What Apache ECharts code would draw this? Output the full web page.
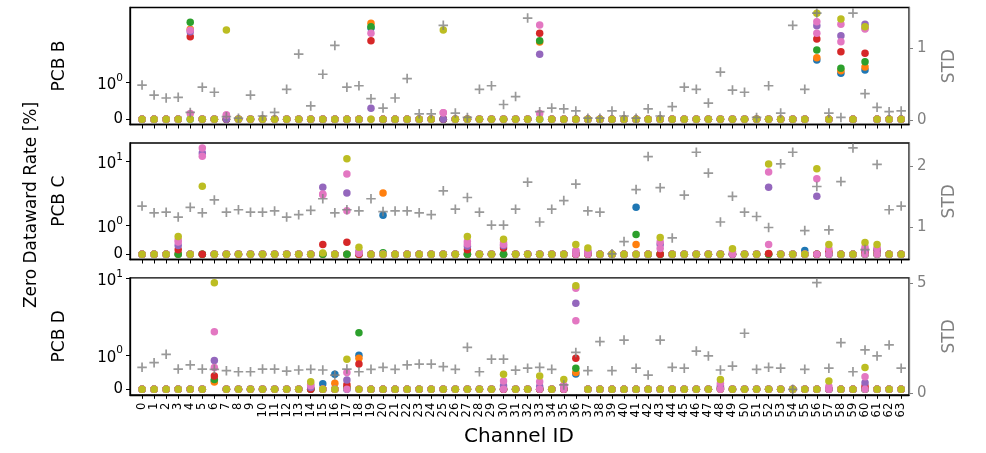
<!DOCTYPE html>
<html><head><meta charset="utf-8">
<script src="https://cdn.jsdelivr.net/npm/echarts@6/dist/echarts.min.js"></script>
<style>html,body{margin:0;padding:0;background:#fff}#c{width:986px;height:453px}</style>
</head><body><div id="c"></div>
<script>
// ---------------- DATA ----------------
const channels = [0,1,2,3,4,5,6,7,8,9,10,11,12,13,14,15,16,17,18,19,20,21,22,23,24,25,26,27,28,29,30,31,
  32,33,34,35,36,37,38,39,40,41,42,43,44,45,46,47,48,49,50,51,52,53,54,55,56,57,58,59,60,61,62,63];
const panelNames = ['PCB B', 'PCB C', 'PCB D'];
const yTicksLeft = [[0, 1], [0, 1, 10], [0, 1, 10]];
const yTicksRight = [[0, 1], [1, 2], [0, 5]];

// Zero dataward rate [%] per series (8 series) per panel
const B_blue   = [0,0,0,0,0,0,0,0,0,0,0,0,0,0,0,0, 0,0,0,4.6,0,0,0,0,0,0,0,0,0,0,0,0, 0,0,0,0,0,0,0,0,0,0,0,0,0,0,0,0, 0,0,0,0,0,0,0,0,1.88,0,1.30,0,1.42,0,0,0];
const B_orange = [0,0,0,0,4.43,0,0,0,0,0,0,0,0,0,0,0, 0,0,0,5.23,0,0,0,0,0,0,0,0,0,0,0,0, 0,3.1,0,0,0,0,0,0,0,0,0,0,0,0,0,0, 0,0,0,0,0,0,0,0,2.0,0,1.39,0,1.55,0,0,0];
const B_green  = [0,0,0,0,5.38,0,0,0,0,0,0,0,0,0,0,0, 0,0,0,4.76,0,0,0,0,0,0,0,0,0,0,0,0, 0,3.22,0,0,0,0,0,0,0,0,0,0,0,0,0,0, 0,0,0,0,0,0,0,0,2.48,0,1.49,0,1.79,0,0,0];
const B_red    = [0,0,0,0,3.6,0,0,0,0,0,0,0,0,0,0,0, 0,0,0,3.22,0,0,0,0,0,0,0,0,0,0,0,0, 0,3.96,0,0,0,0,0,0,0,0,0,0,0,0,0,0, 0,0,0,0,0,0,0,0,3.38,0,2.37,0,2.27,0,0,0];
const B_purple = [0,0,0,0,4.14,0,0,0,0,0,0,0,0,0,0,0, 0,0,0,0.30,0,0,0,0,0,0,0,0,0,0,0,0, 0,2.2,0,0,0,0,0,0,0,0,0,0,0,0,0,0, 0,0,0,0,0,0,0,0,4.9,0,3.70,0,5.09,0,0,0];
const B_pink   = [0,0,0,0,4.3,0,0,0.12,0,0,0,0,0,0,0,0, 0,0,0,3.96,0,0,0,0,0,0.18,0,0,0,0,0,0, 0,4.99,0,0,0,0,0,0,0,0,0,0,0,0,0,0, 0,0,0,0,0,0,0,0,5.47,0,5.09,0,4.46,0,0,0];
const B_pink2  = [0,0,0,0,0.16,0,0,0.12,0,0,0,0,0,0,0,0, 0,0,0,0,0,0,0,0,0,0.18,0,0,0,0,0,0, 0,0.16,0,0,0,0,0,0,0,0,0,0,0,0,0,0, 0,0,0,0,0,0,0,0,3.96,0,3.13,0,4.6,0,0,0];
const B_olive  = [0,0,0,0,0,0,0,4.34,0,0,0,0,0,0,0,0, 0,0,0,0,0,0,0,0,0,4.34,0,0,0,0,0,0, 0,0,0,0,0,0,0,0,0,0,0,0,0,0,0,0, 0,0,0,0,0,0,0,0,6.92,0,5.9,0,4.76,0,0,0];

const C_blue   = [0,0,0,0,0,0,0,0,0,0,0,0,0,0,0,0, 0,0,0,0,1.45,0,0,0,0,0,0,0,0,0,0,0, 0,0,0,0,0,0,0,0,0,1.93,0,0,0,0,0,0, 0,0,0,0,0,0,0,0.13,0,0,0,0,0,0,0,0];
const C_orange = [0,0,0,0,0,0,0,0,0,0,0,0,0,0,0,0, 0,0,0,0,3.22,0,0,0,0,0,0,0,0,0,0,0, 0,0,0,0,0,0,0,0,0,0.34,0,0,0,0,0,0, 0,0,0,0,0,0,0,0,0,0,0,0,0,0,0,0];
const C_green  = [0,0,0,0,0,0,0,0,0,0,0,0,0,0,0,0, 0,0,0,0,0.05,0,0,0,0,0,0,0,0,0,0,0, 0,0,0,0,0,0,0,0,0,0.69,0,0,0,0,0,0, 0,0,0,0,0,0,0,0,0,0,0,0,0,0,0,0];
const C_red    = [0,0,0,0.16,0,0,0,0,0,0,0,0,0,0,0,0.34, 0,0.42,0,0,0,0,0,0,0,0,0,0.16,0,0,0.22,0, 0,0,0,0,0,0,0,0,0,0,0,0,0,0,0,0, 0,0,0,0,0.03,0,0,0,0,0.1,0,0,0.08,0.13,0,0];
const C_purple = [0,0,0,0.31,0,13.5,0,0,0,0,0,0,0,0,0,3.95, 0,3.22,0.1,0,0,0,0,0,0,0,0,0.28,0,0,0.3,0, 0,0,0,0,0.1,0.1,0,0,0,0,0,0.34,0,0,0,0, 0,0,0,0,3.95,0,0,0,2.87,0,0,0,0.16,0.17,0,0];
const C_pink   = [0,0,0,0.43,0,16.1,0,0,0,0,0,0,0,0,0,3.03, 0,6.36,0.06,0,0,0,0,0,0,0,0,0.36,0,0,0.34,0, 0,0,0,0,0.13,0.1,0,0,0,0,0,0.43,0,0,0,0, 0,0.1,0,0,6.84,0,0,0,5.38,0.19,0,0,0.25,0.22,0,0];
const C_pink2  = [0,0,0,0.5,0,12.0,0,0,0,0,0,0,0,0,0,3.1, 0,1.71,0.04,0,0,0,0,0,0,0,0,0.45,0,0,0.4,0, 0,0,0,0,0,0,0,0,0,0,0,0.2,0,0,0,0, 0,0,0,0,0.34,0,0,0,0,0,0,0,0,0,0,0];
const C_olive  = [0,0,0,0.62,0,4.1,0,0,0,0,0,0,0,0,0,0.045, 0,11.0,0.25,0,0,0,0,0,0,0,0,0.62,0,0,0.53,0, 0,0,0,0,0.34,0.22,0,0,0,0,0,0.59,0,0,0,0, 0,0.19,0,0,9.1,0,0,0,7.7,0.34,0,0,0.41,0.34,0,0];

const D_blue   = [0,0,0,0,0,0,0.25,0,0,0,0,0,0,0,0,0.16, 0.44,0,1.0,0,0,0,0,0,0,0,0,0,0,0,0,0, 0,0,0,0,0.45,0,0,0,0,0,0,0,0,0,0,0, 0,0,0,0,0,0,0,0,0,0,0,0,0,0,0,0];
const D_orange = [0,0,0,0,0,0,0.21,0,0,0,0,0,0,0,0,0, 0.18,0.06,0.91,0,0,0,0,0,0,0,0,0,0,0,0,0, 0,0,0,0,0.49,0,0,0,0,0,0,0,0,0,0,0, 0,0,0,0,0,0,0,0,0,0,0,0,0,0,0,0];
const D_green  = [0,0,0,0,0,0,0.29,0,0,0,0,0,0,0,0,0, 0,0.03,1.96,0,0,0,0,0,0,0,0,0,0,0,0,0, 0,0,0,0,0.62,0,0,0,0,0,0,0,0,0,0,0, 0.02,0,0,0,0,0,0,0,0,0,0,0,0,0,0,0];
const D_red    = [0,0,0,0,0,0,0.39,0,0,0,0,0,0,0,0,0, 0,0.13,0.74,0,0,0,0,0,0,0,0,0,0,0,0,0, 0,0,0,0,0.91,0,0,0,0,0,0,0,0,0,0,0, 0.05,0,0,0,0,0,0,0,0,0,0,0,0.08,0,0,0];
const D_purple = [0,0,0,0,0,0,0.84,0,0,0,0,0,0,0,0.05,0, 0,0.27,0,0,0,0,0,0,0,0,0,0,0,0,0.1,0, 0,0.08,0,0.1,4.75,0,0,0,0,0,0,0,0,0,0,0, 0.1,0,0,0,0,0,0,0,0,0,0,0,0.19,0,0,0];
const D_pink   = [0,0,0,0,0,0,2.02,0,0,0,0,0,0,0,0.1,0, 0,0.49,0,0,0,0,0,0,0,0,0,0,0,0,0.24,0, 0,0.22,0,0.12,2.81,0,0,0,0,0,0,0,0,0,0,0, 0.18,0,0,0,0,0,0,0,0,0.08,0,0,0.37,0,0,0];
const D_pink2  = [0,0,0,0,0,0,0.64,0,0,0,0,0,0,0,0.15,0, 0,0,0,0,0,0,0,0,0,0,0,0,0,0,0,0, 0,0,0,0,7.45,0,0,0,0,0,0,0,0,0,0,0, 0,0,0,0,0,0,0,0,0,0,0,0,0,0,0,0];
const D_olive  = [0,0,0,0,0,0,8.8,0,0,0,0,0,0,0,0.22,0, 0,0.88,0,0,0,0,0,0,0,0,0,0,0,0,0.44,0, 0,0.39,0,0.29,8.05,0,0,0,0,0,0,0,0,0,0,0, 0.29,0,0,0,0,0,0,0,0,0.24,0,0,0.64,0,0,0];

// STD per channel (right axis)
const B_std = [0.49,0.35,0.31,0.32,0.11,0.46,0.39,0.05, 0.03,0.35,0.06,0.11,0.43,0.92,0.20,0.64,
  1.04,0.46,0.48,0.30,0.17,0.31,0.58,0.09, 0.09,1.32,0.10,0.04,0.43,0.48,0.22,0.33,
  1.42,0.12,0.17,0.16,0.13,0.03,0.03,0.13, 0.06,0.03,0.16,0.06,0.19,0.46,0.43,0.24,
  0.67,0.42,0.39,0.04,0.48,0.10,1.32,0.43, 1.49,0.10,0.04,1.49,0.37,0.18,0.12,0.13];
const C_std = [1.35,1.24,1.25,1.17,1.33,1.24,1.45,1.25, 1.29,1.25,1.25,1.27,1.17,1.21,1.28,1.47,
  1.24,1.29,1.27,1.47,1.26,1.27,1.27,1.24, 1.21,1.60,1.30,1.49,1.25,1.04,1.04,1.30,
  1.74,1.09,1.30,1.44,1.71,1.27,1.25,0.57, 0.77,1.62,2.16,1.65,0.83,1.53,2.23,1.89,
  1.09,1.51,1.25,1.18,1.00,2.04,2.23,0.95, 1.67,0.96,1.75,2.30,0.64,2.03,1.29,1.35];
const D_std = [1.18,1.39,1.77,1.10,1.29,1.10,1.09,1.03, 0.98,0.98,1.10,1.10,1.01,1.06,1.09,1.06,
  0.83,1.10,0.98,1.09,1.18,1.09,1.29,1.33, 1.33,1.21,1.09,2.09,0.98,1.55,1.55,1.05,
  1.14,1.18,1.09,0.38,1.86,1.03,2.35,1.03, 2.42,1.14,0.83,2.42,1.18,1.14,1.92,1.70,
  1.06,1.24,2.73,1.09,1.18,1.14,0.18,1.09, 5.03,1.14,2.30,0.98,1.97,1.70,2.20,1.14];

// ---------------- STYLE / LAYOUT ----------------
const colors = ['#1f77b4','#ff7f0e','#2ca02c','#d62728','#9467bd','#e377c2','#e377c2','#bcbd22'];
const panelSeries = [
  [B_blue,B_orange,B_green,B_red,B_purple,B_pink,B_pink2,B_olive],
  [C_blue,C_orange,C_green,C_red,C_purple,C_pink,C_pink2,C_olive],
  [D_blue,D_orange,D_green,D_red,D_purple,D_pink,D_pink2,D_olive]
];
const panelStd = [B_std, C_std, D_std];

const A = 0.445; // linear-region size of the symlog scale (in decades)
function T(v){ return v <= 1 ? v * A : A + Math.log10(v); }

const FONT = 'DejaVu Sans';
const grids = [
  {top: 7.5, height: 117, lmin: -0.063, lmax: 1.355, rmin: -0.058, rmax: 1.567},
  {top: 143, height: 116.5, lmin: -0.081, lmax: 1.731, rmin: 0.477, rmax: 2.381},
  {top: 277.8, height: 117, lmin: -0.072, lmax: 1.454, rmin: -0.068, rmax: 5.25}
];
const plus = 'path://M0,4.1H10V5.9H0Z M4.1,0H5.9V10H4.1Z';

const option = {
  animation: false,
  backgroundColor: '#fff',
  textStyle: {fontFamily: FONT},
  grid: grids.map(g => ({left: 130, right: 77, top: g.top, height: g.height, show: true,
    borderColor: '#000', borderWidth: 1.3, backgroundColor: 'transparent', outerBoundsMode: 'none'})),
  xAxis: grids.map((g, i) => ({
    type: 'value', gridIndex: i, min: -1, max: 63.65,
    axisLine: {show: true, onZero: false, lineStyle: {color: '#000', width: 1.3}},
    axisTick: {show: true, customValues: channels, length: 4, lineStyle: {color: '#000', width: 1}},
    axisLabel: {show: i === 2, customValues: channels, rotate: 90, fontSize: 11.5, margin: 8,
      color: '#000', fontFamily: FONT},
    splitLine: {show: false}
  })),
  yAxis: grids.map((g, i) => {
    const tv = yTicksLeft[i].map(T).filter(v => v <= g.lmax + 1e-6);
    return {
      type: 'value', gridIndex: i, position: 'left', min: g.lmin, max: g.lmax,
      axisLine: {show: true, onZero: false, lineStyle: {color: '#000', width: 1.3}},
      axisTick: {show: true, customValues: tv, length: 4, lineStyle: {color: '#000', width: 1}},
      axisLabel: {customValues: tv, fontSize: 15, margin: 7, color: '#000', fontFamily: FONT,
        formatter: v => Math.abs(v) < 1e-6 ? '0' : '{b|10}{s|' + Math.round(v - A) + '}',
        rich: {b: {fontSize: 15, fontFamily: FONT, color: '#000', verticalAlign: 'bottom', lineHeight: 20},
               s: {fontSize: 10.5, fontFamily: FONT, color: '#000', verticalAlign: 'top', lineHeight: 20}}},
      splitLine: {show: false}
    };
  }).concat(grids.map((g, i) => ({
    type: 'value', gridIndex: i, position: 'right', min: g.rmin, max: g.rmax,
    axisLine: {show: true, onZero: false, lineStyle: {color: '#808080', width: 1.3}},
    axisTick: {show: true, customValues: yTicksRight[i], length: 4, lineStyle: {color: '#808080', width: 1}},
    axisLabel: {customValues: yTicksRight[i], fontSize: 15, margin: 8, color: '#808080', fontFamily: FONT},
    splitLine: {show: false}
  }))),
  series: [],
  graphic: []
};

panelSeries.forEach((list, p) => {
  list.forEach((vals, s) => {
    option.series.push({
      type: 'scatter', xAxisIndex: p, yAxisIndex: p, symbolSize: 7.5, silent: true,
      itemStyle: {color: colors[s], opacity: 1},
      data: channels.map((ch, k) => [ch, T(vals[k])])
    });
  });
});
panelStd.forEach((vals, p) => {
  option.series.push({
    type: 'scatter', xAxisIndex: p, yAxisIndex: 3 + p, symbol: plus, symbolSize: 9.5, silent: true,
    itemStyle: {color: '#808080'}, z: 5,
    data: channels.map((ch, k) => [ch, vals[k]])
  });
});

grids.forEach((g, i) => {
  const cy = g.top + g.height / 2;
  option.graphic.push({type: 'text', x: 60, y: cy, rotation: Math.PI / 2,
    style: {text: panelNames[i], fontSize: 17, fontFamily: FONT, fill: '#000', align: 'center', verticalAlign: 'middle'}});
  option.graphic.push({type: 'text', x: 950, y: cy, rotation: Math.PI / 2,
    style: {text: 'STD', fontSize: 17, fontFamily: FONT, fill: '#808080', align: 'center', verticalAlign: 'middle'}});
});
option.graphic.push({type: 'text', x: 32, y: 205, rotation: Math.PI / 2,
  style: {text: 'Zero Dataward Rate [%]', fontSize: 17, fontFamily: FONT, fill: '#000', align: 'center', verticalAlign: 'middle'}});
option.graphic.push({type: 'text', x: 519, y: 437,
  style: {text: 'Channel ID', fontSize: 20, fontFamily: FONT, fill: '#000', align: 'center', verticalAlign: 'middle'}});

const chart = echarts.init(document.getElementById('c'), null, {renderer: 'canvas'});
chart.setOption(option);
</script></body></html>
